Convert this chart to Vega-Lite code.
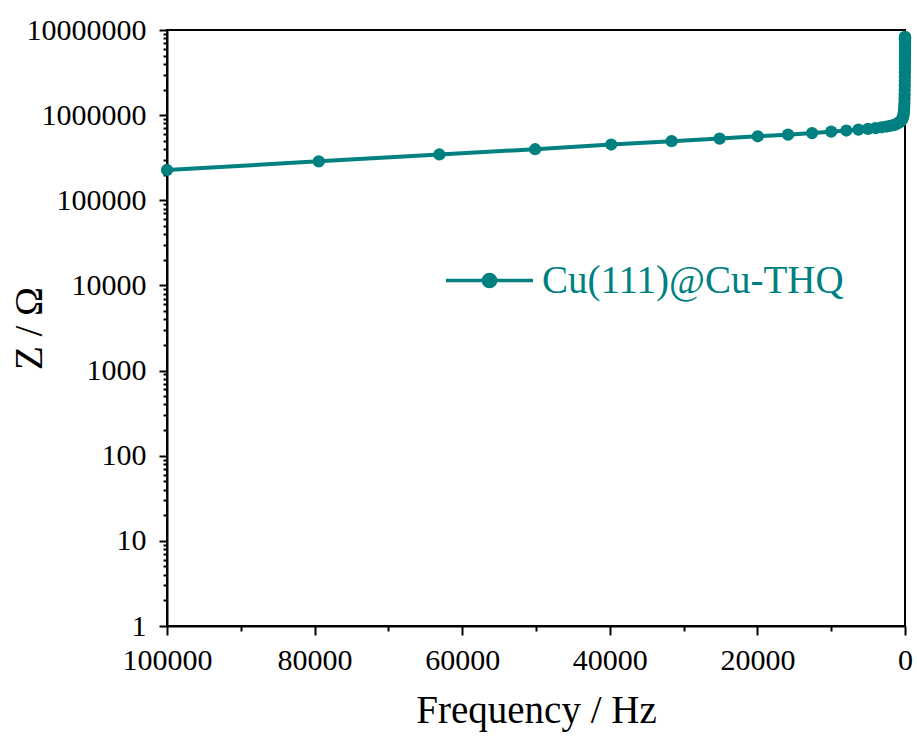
{
  "$schema": "https://vega.github.io/schema/vega-lite/v6.json",
  "width": 738,
  "height": 596,
  "autosize": "none",
  "padding": {"left": 167, "top": 30, "right": 12, "bottom": 112},
  "background": "white",
  "config": {
    "view": {"stroke": "black", "strokeWidth": 2},
    "axis": {
      "grid": false,
      "domainColor": "black",
      "domainWidth": 2,
      "tickColor": "black",
      "tickWidth": 2,
      "labelFont": "Liberation Serif",
      "labelColor": "black",
      "labelFontSize": 30,
      "titleFont": "Liberation Serif",
      "titleColor": "black",
      "titleFontSize": 39,
      "titleFontWeight": "normal"
    }
  },
  "data": {
    "values": [
      {"freq": 100000, "z": 227000, "series": "Cu(111)@Cu-THQ"},
      {"freq": 79433, "z": 287000, "series": "Cu(111)@Cu-THQ"},
      {"freq": 63096, "z": 345000, "series": "Cu(111)@Cu-THQ"},
      {"freq": 50119, "z": 398000, "series": "Cu(111)@Cu-THQ"},
      {"freq": 39811, "z": 452000, "series": "Cu(111)@Cu-THQ"},
      {"freq": 31623, "z": 495000, "series": "Cu(111)@Cu-THQ"},
      {"freq": 25119, "z": 530000, "series": "Cu(111)@Cu-THQ"},
      {"freq": 19953, "z": 565000, "series": "Cu(111)@Cu-THQ"},
      {"freq": 15849, "z": 590000, "series": "Cu(111)@Cu-THQ"},
      {"freq": 12589, "z": 615000, "series": "Cu(111)@Cu-THQ"},
      {"freq": 10000, "z": 640000, "series": "Cu(111)@Cu-THQ"},
      {"freq": 7943, "z": 660000, "series": "Cu(111)@Cu-THQ"},
      {"freq": 6310, "z": 675000, "series": "Cu(111)@Cu-THQ"},
      {"freq": 5012, "z": 690000, "series": "Cu(111)@Cu-THQ"},
      {"freq": 3981, "z": 705000, "series": "Cu(111)@Cu-THQ"},
      {"freq": 3162, "z": 720000, "series": "Cu(111)@Cu-THQ"},
      {"freq": 2512, "z": 735000, "series": "Cu(111)@Cu-THQ"},
      {"freq": 1995, "z": 750000, "series": "Cu(111)@Cu-THQ"},
      {"freq": 1585, "z": 765000, "series": "Cu(111)@Cu-THQ"},
      {"freq": 1259, "z": 780000, "series": "Cu(111)@Cu-THQ"},
      {"freq": 1000, "z": 800000, "series": "Cu(111)@Cu-THQ"},
      {"freq": 794, "z": 820000, "series": "Cu(111)@Cu-THQ"},
      {"freq": 631, "z": 840000, "series": "Cu(111)@Cu-THQ"},
      {"freq": 501, "z": 860000, "series": "Cu(111)@Cu-THQ"},
      {"freq": 398, "z": 890000, "series": "Cu(111)@Cu-THQ"},
      {"freq": 316, "z": 920000, "series": "Cu(111)@Cu-THQ"},
      {"freq": 251, "z": 960000, "series": "Cu(111)@Cu-THQ"},
      {"freq": 200, "z": 1010000, "series": "Cu(111)@Cu-THQ"},
      {"freq": 158, "z": 1080000, "series": "Cu(111)@Cu-THQ"},
      {"freq": 126, "z": 1160000, "series": "Cu(111)@Cu-THQ"},
      {"freq": 100, "z": 1260000, "series": "Cu(111)@Cu-THQ"},
      {"freq": 79.4, "z": 1390000, "series": "Cu(111)@Cu-THQ"},
      {"freq": 63.1, "z": 1550000, "series": "Cu(111)@Cu-THQ"},
      {"freq": 50.1, "z": 1740000, "series": "Cu(111)@Cu-THQ"},
      {"freq": 39.8, "z": 1970000, "series": "Cu(111)@Cu-THQ"},
      {"freq": 31.6, "z": 2230000, "series": "Cu(111)@Cu-THQ"},
      {"freq": 25.1, "z": 2520000, "series": "Cu(111)@Cu-THQ"},
      {"freq": 20.0, "z": 2850000, "series": "Cu(111)@Cu-THQ"},
      {"freq": 15.8, "z": 3200000, "series": "Cu(111)@Cu-THQ"},
      {"freq": 12.6, "z": 3550000, "series": "Cu(111)@Cu-THQ"},
      {"freq": 10.0, "z": 3900000, "series": "Cu(111)@Cu-THQ"},
      {"freq": 7.94, "z": 4250000, "series": "Cu(111)@Cu-THQ"},
      {"freq": 6.31, "z": 4600000, "series": "Cu(111)@Cu-THQ"},
      {"freq": 5.01, "z": 4950000, "series": "Cu(111)@Cu-THQ"},
      {"freq": 3.98, "z": 5300000, "series": "Cu(111)@Cu-THQ"},
      {"freq": 3.16, "z": 5600000, "series": "Cu(111)@Cu-THQ"},
      {"freq": 2.51, "z": 5900000, "series": "Cu(111)@Cu-THQ"},
      {"freq": 2.0, "z": 6150000, "series": "Cu(111)@Cu-THQ"},
      {"freq": 1.58, "z": 6400000, "series": "Cu(111)@Cu-THQ"},
      {"freq": 1.26, "z": 6650000, "series": "Cu(111)@Cu-THQ"},
      {"freq": 1.0, "z": 6850000, "series": "Cu(111)@Cu-THQ"},
      {"freq": 0.794, "z": 7050000, "series": "Cu(111)@Cu-THQ"},
      {"freq": 0.631, "z": 7250000, "series": "Cu(111)@Cu-THQ"},
      {"freq": 0.501, "z": 7450000, "series": "Cu(111)@Cu-THQ"},
      {"freq": 0.398, "z": 7600000, "series": "Cu(111)@Cu-THQ"},
      {"freq": 0.316, "z": 7750000, "series": "Cu(111)@Cu-THQ"},
      {"freq": 0.251, "z": 7900000, "series": "Cu(111)@Cu-THQ"},
      {"freq": 0.2, "z": 8000000, "series": "Cu(111)@Cu-THQ"},
      {"freq": 0.158, "z": 8100000, "series": "Cu(111)@Cu-THQ"},
      {"freq": 0.126, "z": 8200000, "series": "Cu(111)@Cu-THQ"},
      {"freq": 0.1, "z": 8300000, "series": "Cu(111)@Cu-THQ"}
    ]
  },
  "mark": {
    "type": "line",
    "strokeWidth": 4,
    "clip": false,
    "point": {"filled": true, "size": 150}
  },
  "encoding": {
    "x": {
      "field": "freq",
      "type": "quantitative",
      "scale": {"domain": [0, 100000], "reverse": true, "nice": false, "zero": false},
      "axis": {
        "title": "Frequency / Hz",
        "values": [0, 10000, 20000, 30000, 40000, 50000, 60000, 70000, 80000, 90000, 100000],
        "format": "d",
        "labelExpr": "datum.value % 20000 == 0 ? datum.label : ''",
        "tickSize": {"condition": {"test": "datum.value % 20000 == 0", "value": 9}, "value": 5},
        "labelPadding": 10,
        "labelFlush": false,
        "labelOverlap": false,
        "titlePadding": 16
      }
    },
    "y": {
      "field": "z",
      "type": "quantitative",
      "scale": {"type": "log", "domain": [1, 10000000], "nice": false},
      "axis": {
        "title": "Z / Ω",
        "titleX": -138,
        "titleY": 298,
        "titleAngle": -90,
        "titleAlign": "center",
        "titleBaseline": "middle",
        "values": [1, 2, 3, 4, 5, 6, 7, 8, 9, 10, 20, 30, 40, 50, 60, 70, 80, 90, 100, 200, 300, 400, 500, 600, 700, 800, 900, 1000, 2000, 3000, 4000, 5000, 6000, 7000, 8000, 9000, 10000, 20000, 30000, 40000, 50000, 60000, 70000, 80000, 90000, 100000, 200000, 300000, 400000, 500000, 600000, 700000, 800000, 900000, 1000000, 2000000, 3000000, 4000000, 5000000, 6000000, 7000000, 8000000, 9000000, 10000000],
        "format": "d",
        "labelExpr": "indexof([1,10,100,1000,10000,100000,1000000,10000000], datum.value) >= 0 ? format(datum.value, 'd') : ''",
        "tickSize": {"condition": {"test": "indexof([1,10,100,1000,10000,100000,1000000,10000000], datum.value) >= 0", "value": 8}, "value": 4},
        "labelPadding": 13,
        "labelFlush": false,
        "labelOverlap": false
      }
    },
    "color": {
      "field": "series",
      "type": "nominal",
      "scale": {"range": ["#008080"]},
      "legend": {
        "title": null,
        "orient": "none",
        "legendX": 277,
        "legendY": 205,
        "symbolType": "M-1,0H-0.14M0.14,0H1M-0.14,0A0.14,0.14,0,1,1,0.14,0A0.14,0.14,0,1,1,-0.14,0",
        "symbolSize": 7569,
        "symbolStrokeWidth": 3,
        "labelFont": "Liberation Serif",
        "labelFontSize": 39,
        "labelColor": "#008080",
        "labelOffset": 7,
        "labelLimit": 500,
        "encode": {
          "symbols": {
            "update": {
              "fill": {"value": "#008080"},
              "stroke": {"value": "#008080"},
              "strokeWidth": {"value": 3.5},
              "opacity": {"value": 1}
            }
          }
        }
      }
    }
  }
}
